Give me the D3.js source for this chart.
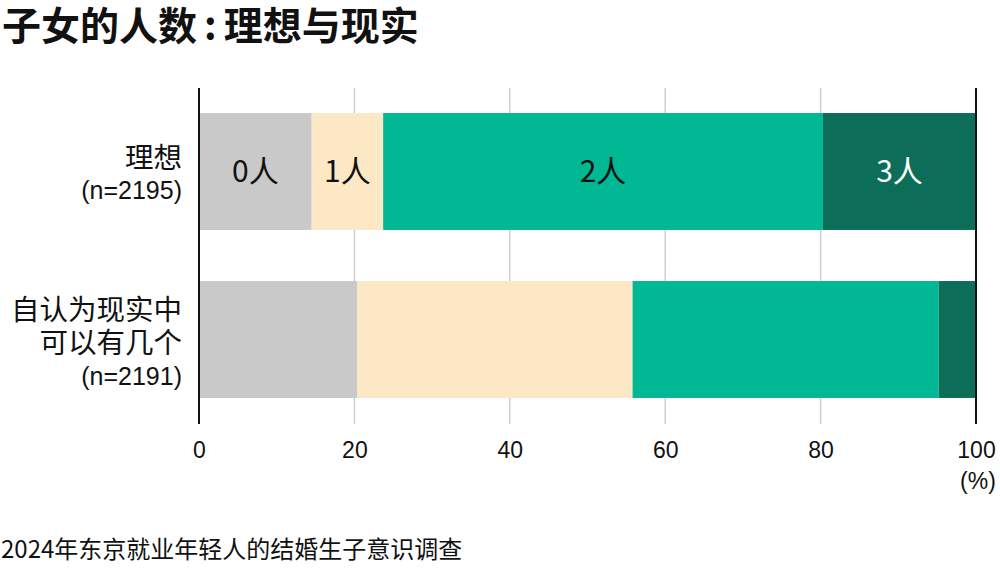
<!DOCTYPE html>
<html>
<head>
<meta charset="utf-8">
<script src="https://cdn.jsdelivr.net/npm/d3@7/dist/d3.min.js"></script>
<style>
  body { margin: 0; background: #fff; }
  text { font-family: "Noto Sans CJK SC", "Noto Sans", sans-serif; }
  text.latin { font-family: "Liberation Sans", Arial, sans-serif; }
</style>
</head>
<body>
<svg id="chart"></svg>
<script>
// categories (rows) and their labels
var rows = ["ideal", "real"];
var rowLabels = [["理想", "(n=2195)"], ["自认为现实中", "可以有几个", "(n=2191)"]];

// segments: number of children
var segments = ["0人", "1人", "2人", "3人"];
var colors = ["#c9c9c9", "#fde8c6", "#00b894", "#0c6e59"];
var labelColors = ["#111", "#111", "#111", "#fff"];

// percentages
var idealValues = [14.5, 9.2, 56.6, 19.7];
var realValues = [20.4, 35.4, 39.4, 4.8];

var xTicks = [0, 20, 40, 60, 80, 100];

var width = 1000, height = 570;
var svg = d3.select("#chart").attr("width", width).attr("height", height);

var x = d3.scaleLinear().domain([0, 100]).range([199, 976]);
var y = d3.scaleBand().domain(rows).range([88, 423]).paddingInner(0.304).paddingOuter(0.149);

// stacked data
var table = rows.map(function(r, i) {
  var vals = i == 0 ? idealValues : realValues;
  var obj = {row: r};
  segments.forEach(function(s, j) { obj[s] = vals[j]; });
  return obj;
});
var stacked = d3.stack().keys(segments)(table);

// gridlines
svg.append("g").selectAll("line")
  .data(xTicks.slice(1, -1))
  .enter().append("line")
  .attr("x1", function(d) { return x(d); })
  .attr("x2", function(d) { return x(d); })
  .attr("y1", 88).attr("y2", 424)
  .attr("stroke", "#cfcfcf")
  .attr("stroke-width", 1.5);

// bars
var layers = svg.append("g").selectAll("g")
  .data(stacked)
  .enter().append("g")
  .attr("fill", function(d, i) { return colors[i]; });

layers.selectAll("rect")
  .data(function(d) { return d; })
  .enter().append("rect")
  .attr("x", function(d) { return x(d[0]); })
  .attr("width", function(d) { return x(d[1]) - x(d[0]); })
  .attr("y", function(d) { return y(d.data.row); })
  .attr("height", y.bandwidth());

// edge lines at 0 and 100, above bars
svg.append("g").selectAll("line")
  .data([0, 100])
  .enter().append("line")
  .attr("x1", function(d) { return x(d); })
  .attr("x2", function(d) { return x(d); })
  .attr("y1", 88).attr("y2", 424)
  .attr("stroke", "#111").attr("stroke-width", 2);

// segment labels on the first bar
svg.append("g").selectAll("text")
  .data(stacked.map(function(s, i) { return {seg: s[0], i: i}; }))
  .enter().append("text")
  .attr("x", function(d) { return x((d.seg[0] + d.seg[1]) / 2); })
  .attr("y", y(rows[0]) + y.bandwidth() / 2)
  .attr("dy", "0.36em")
  .attr("text-anchor", "middle")
  .attr("font-size", 30)
  .attr("fill", function(d) { return labelColors[d.i]; })
  .text(function(d) { return segments[d.i]; });

// row labels
var rowLineY = [[158, 190], [310, 343, 376]];
rows.forEach(function(r, i) {
  rowLabels[i].forEach(function(t, k) {
    var isN = t.charAt(0) == "(";
    svg.append("text")
      .attr("class", isN ? "latin" : null)
      .attr("x", 182)
      .attr("y", rowLineY[i][k])
      .attr("dy", "0.36em")
      .attr("text-anchor", "end")
      .attr("font-size", isN ? 25 : 28.5)
      .attr("fill", "#111")
      .text(t);
  });
});

// x axis labels
var axis = svg.append("g")
  .attr("transform", "translate(0,450)")
  .call(d3.axisBottom(x).tickValues(xTicks).tickSize(0).tickPadding(0));
axis.select(".domain").remove();
axis.selectAll("text")
  .attr("class", "latin")
  .attr("font-size", 23)
  .attr("fill", "#111")
  .attr("dy", "0.36em");

svg.append("text")
  .attr("class", "latin")
  .attr("x", x(100) + 2).attr("y", 481)
  .attr("dy", "0.36em")
  .attr("text-anchor", "middle")
  .attr("font-size", 23)
  .attr("fill", "#111")
  .text("(%)");

// title
var title = svg.append("text")
  .attr("x", 2).attr("y", 26)
  .attr("dy", "0.36em")
  .attr("font-size", 39)
  .attr("font-weight", 700)
  .attr("fill", "#111");
title.append("tspan").text("子女的人数");
title.append("tspan").attr("dx", 7).text(":");
title.append("tspan").attr("dx", 7).text("理想与现实");

// source note
svg.append("text")
  .attr("x", 1).attr("y", 549)
  .attr("dy", "0.36em")
  .attr("font-size", 24)
  .attr("fill", "#111")
  .text("2024年东京就业年轻人的结婚生子意识调查");
</script>
</body>
</html>
